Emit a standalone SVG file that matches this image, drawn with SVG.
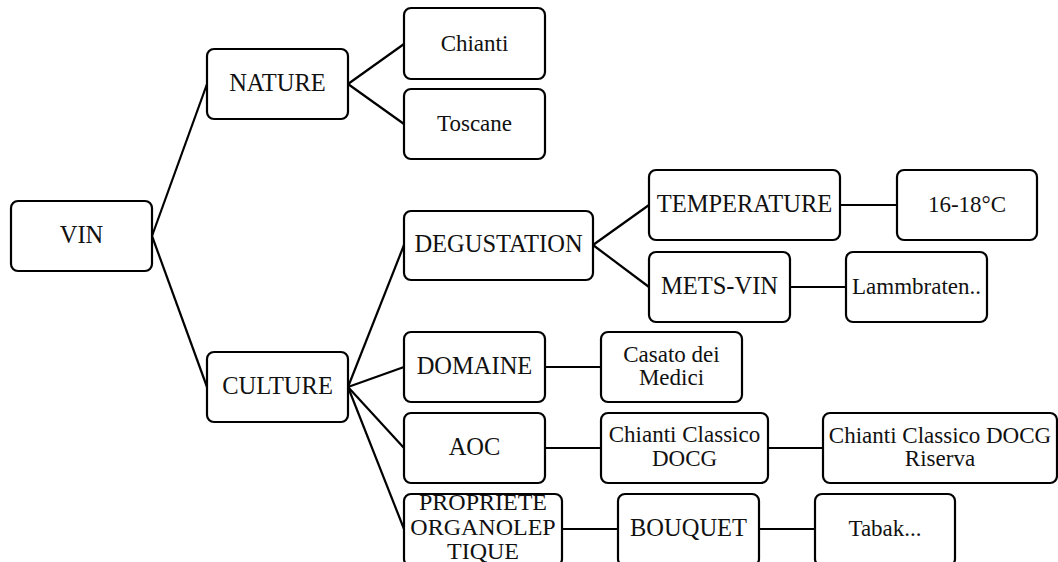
<svg xmlns="http://www.w3.org/2000/svg" width="1058" height="562" viewBox="0 0 1058 562">
<style>
.box{fill:#fff;stroke:#000;stroke-width:2.2}
.lbl{font-family:'Liberation Serif',serif;font-size:23px;fill:#111;text-anchor:middle}
.cap{font-size:24.5px}
.con line{stroke:#000;stroke-width:2.2}
</style>
<rect width="1058" height="562" fill="#fff"/>
<g class="con" id="connectors">
<line x1="152" y1="236" x2="207" y2="84"/>
<line x1="152" y1="236" x2="207" y2="387"/>
<line x1="348" y1="84" x2="404" y2="44"/>
<line x1="348" y1="84" x2="404" y2="124"/>
<line x1="348" y1="387" x2="404" y2="245"/>
<line x1="348" y1="387" x2="404" y2="367"/>
<line x1="348" y1="387" x2="404" y2="448"/>
<line x1="348" y1="387" x2="404" y2="529"/>
<line x1="593" y1="245" x2="649" y2="205"/>
<line x1="593" y1="245" x2="649" y2="287"/>
<line x1="840" y1="205" x2="897" y2="205"/>
<line x1="790" y1="287" x2="846" y2="287"/>
<line x1="545" y1="367" x2="601" y2="367"/>
<line x1="545" y1="448" x2="601" y2="448"/>
<line x1="768" y1="448" x2="823" y2="448"/>
<line x1="562" y1="529" x2="618" y2="529"/>
<line x1="759" y1="529" x2="815" y2="529"/>
</g>
<g id="vin"><rect class="box" x="11" y="201" width="141" height="70" rx="7"/><text class="lbl cap" x="81.5" y="243">VIN</text></g>
<g id="nature"><rect class="box" x="207" y="49" width="141" height="70" rx="7"/><text class="lbl cap" x="277.5" y="91">NATURE</text></g>
<g id="chianti"><rect class="box" x="404" y="8" width="141" height="71" rx="7"/><text class="lbl" x="474.5" y="51">Chianti</text></g>
<g id="toscane"><rect class="box" x="404" y="89" width="141" height="70" rx="7"/><text class="lbl" x="474.5" y="131">Toscane</text></g>
<g id="culture"><rect class="box" x="207" y="352" width="141" height="70" rx="7"/><text class="lbl cap" x="277.5" y="394">CULTURE</text></g>
<g id="degustation"><rect class="box" x="404" y="211" width="189" height="69" rx="7"/><text class="lbl cap" x="498.5" y="252">DEGUSTATION</text></g>
<g id="temperature"><rect class="box" x="649" y="170" width="191" height="70" rx="7"/><text class="lbl cap" x="744.5" y="212">TEMPERATURE</text></g>
<g id="t1618"><rect class="box" x="897" y="170" width="140" height="70" rx="7"/><text class="lbl" x="967" y="212">16-18°C</text></g>
<g id="metsvin"><rect class="box" x="649" y="252" width="141" height="70" rx="7"/><text class="lbl cap" x="719.5" y="294">METS-VIN</text></g>
<g id="lammbraten"><rect class="box" x="846" y="252" width="141" height="70" rx="7"/><text class="lbl" x="916.5" y="294">Lammbraten..</text></g>
<g id="domaine"><rect class="box" x="404" y="332" width="141" height="70" rx="7"/><text class="lbl cap" x="474.5" y="374">DOMAINE</text></g>
<g id="casato"><rect class="box" x="601" y="332" width="141" height="70" rx="7"/><text class="lbl" x="671.5" y="362">Casato dei</text><text class="lbl" x="671.5" y="385">Medici</text></g>
<g id="aoc"><rect class="box" x="404" y="413" width="141" height="70" rx="7"/><text class="lbl cap" x="474.5" y="455">AOC</text></g>
<g id="ccdocg"><rect class="box" x="601" y="413" width="167" height="70" rx="7"/><text class="lbl" x="684.5" y="442">Chianti Classico</text><text class="lbl" x="684.5" y="466">DOCG</text></g>
<g id="riserva"><rect class="box" x="823" y="413" width="234" height="70" rx="7"/><text class="lbl" x="940" y="443">Chianti Classico DOCG</text><text class="lbl" x="940" y="466">Riserva</text></g>
<g id="propriete"><rect class="box" x="404" y="494" width="158" height="72" rx="7"/><text class="lbl" x="483" y="510" style="font-size:24px">PROPRIETE</text><text class="lbl" x="483" y="535" style="font-size:24px">ORGANOLEP</text><text class="lbl" x="483" y="559" style="font-size:24px">TIQUE</text></g>
<g id="bouquet"><rect class="box" x="618" y="494" width="141" height="72" rx="7"/><text class="lbl cap" x="688.5" y="536">BOUQUET</text></g>
<g id="tabak"><rect class="box" x="815" y="494" width="140" height="72" rx="7"/><text class="lbl" x="885" y="536">Tabak...</text></g>
</svg>
